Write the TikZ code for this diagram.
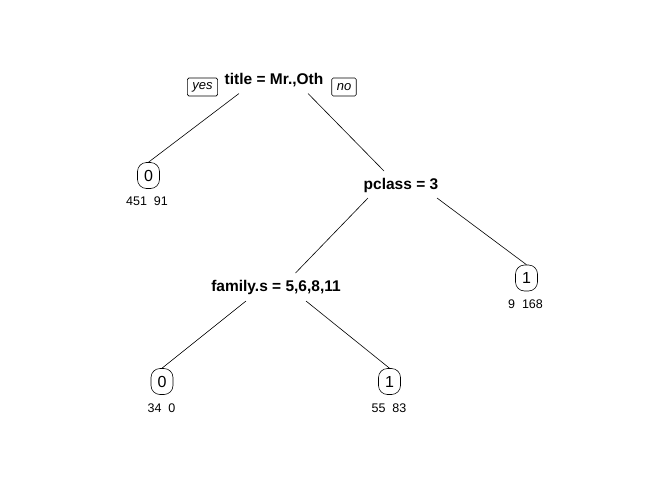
\documentclass[tikz,border=0pt]{standalone}
\usepackage{fontspec}
\setmainfont{Liberation Sans}
\usetikzlibrary{calc}

\tikzset{
  split/.style={font=\fontsize{15.5}{18}\selectfont\bfseries, inner sep=0pt},
  leaf/.style={draw, line width=0.6pt, rounded corners=9pt, minimum width=22pt,
    minimum height=26pt, inner sep=0pt, font=\fontsize{16}{19}\selectfont},
  counts/.style={font=\fontsize{12.5}{15}\selectfont, inner sep=0pt},
  tag/.style={draw, line width=0.6pt, rounded corners=1.5pt, inner xsep=5pt,
    minimum height=18pt, inner ysep=0pt, font=\fontsize{13}{15}\selectfont\itshape},
  branch/.style={line width=0.6pt}
}

\begin{document}
\begin{tikzpicture}[x=1pt,y=-1pt]
  \useasboundingbox (0,0) rectangle (672,480);
  % split nodes
  \node [split] (title) at (274,80.5) {title = Mr.,Oth};
  \node [split] (pclass) at (401,185) {pclass = 3};
  \node [split] (family) at (276,287) {family.s = 5,6,8,11};
  % yes / no tags
  \node [tag] (yes) at (202.5,87) {yes};
  \node [tag] (no) at (344,87) {no};
  % leaves
  \node [leaf] (leafA) at (148.5,175.5) {0};
  \node [counts] (cntA) at (147,201.5) {451\ \ 91};
  \node [leaf] (leafB) at (526.5,278) {1};
  \node [counts] (cntB) at (525.5,304.5) {9\ \ 168};
  \node [leaf] (leafC) at (162,381.5) {0};
  \node [counts] (cntC) at (161.5,408.5) {34\ \ 0};
  \node [leaf] (leafD) at (389.5,381.5) {1};
  \node [counts] (cntD) at (389,408.5) {55\ \ 83};
  % branches
  \draw [branch] ($(title)+(-35,13)$) -- (leafA.north);
  \draw [branch] ($(title)+(34,13)$) -- ($(pclass)+(-17,-14)$);
  \draw [branch] ($(pclass)+(-33,13)$) -- ($(family)+(19.5,-14)$);
  \draw [branch] ($(pclass)+(36,13)$) -- (leafB.north);
  \draw [branch] ($(family)+(-30,14)$) -- (leafC.north);
  \draw [branch] ($(family)+(30,14)$) -- (leafD.north);
\end{tikzpicture}
\end{document}
